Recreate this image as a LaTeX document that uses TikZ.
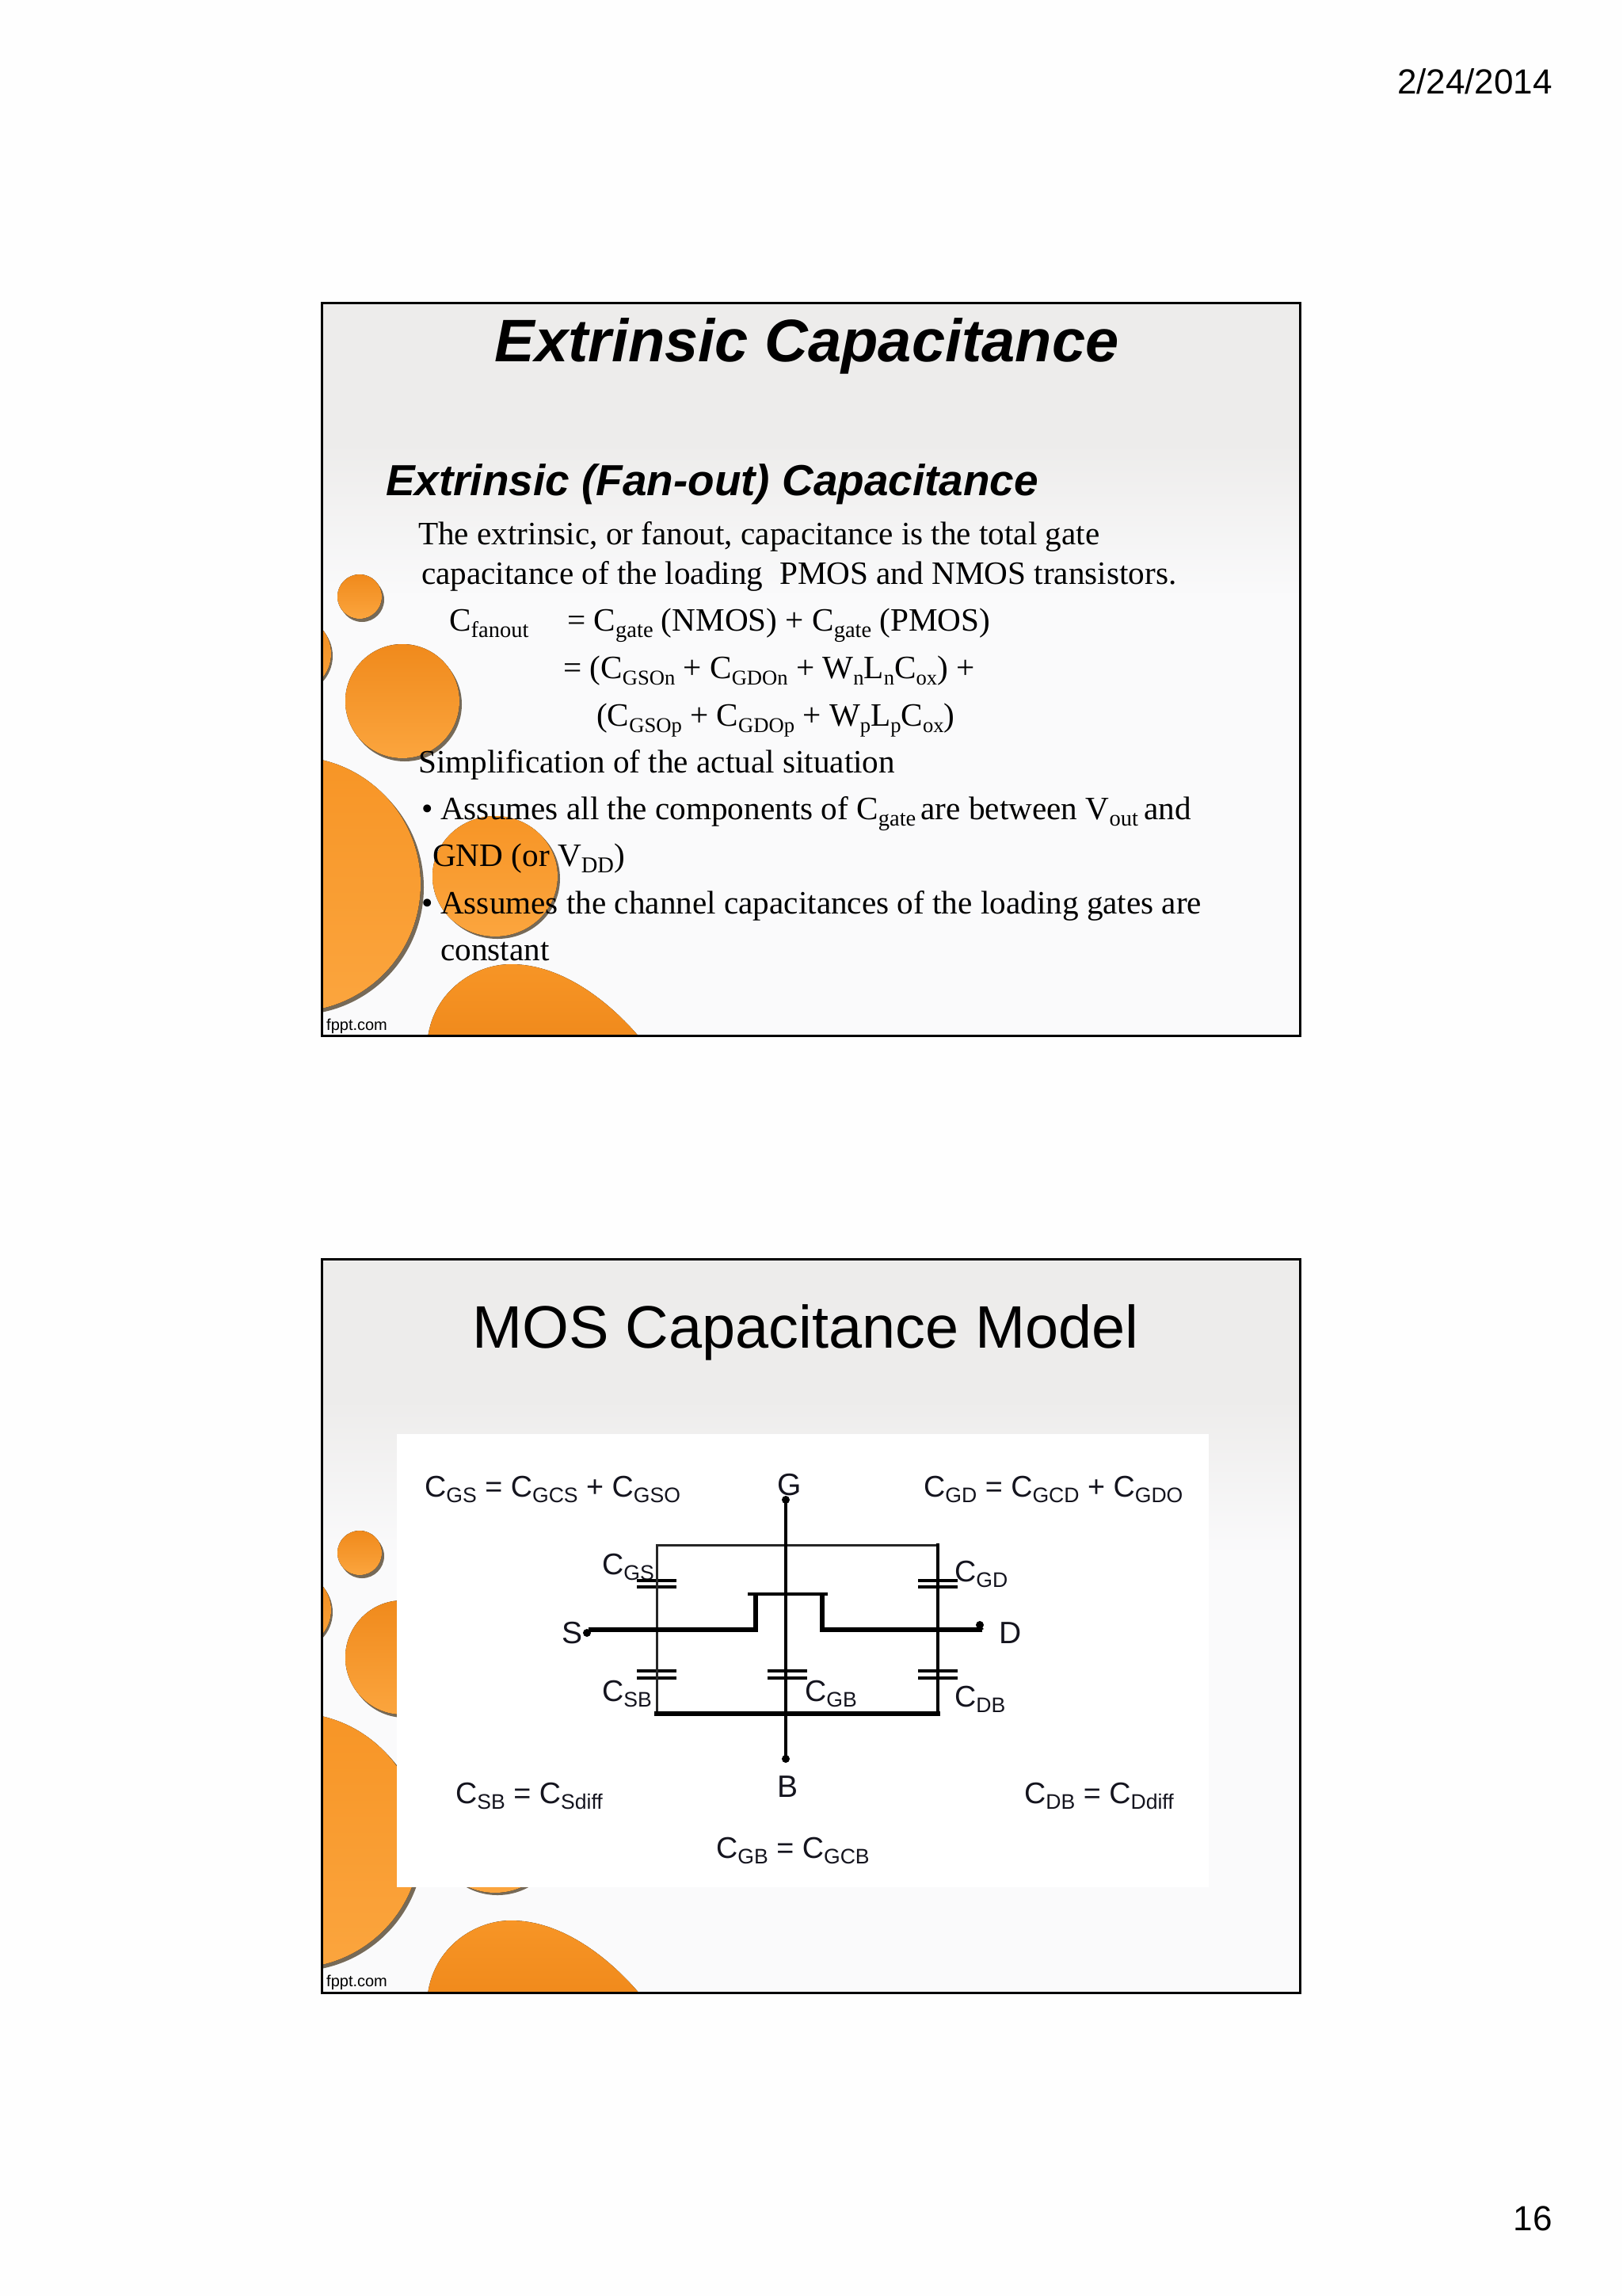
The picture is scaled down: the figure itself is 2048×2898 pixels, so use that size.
\documentclass[tikz,border=0pt]{standalone}
\usepackage{fontspec}
\setmainfont{Liberation Serif}
\newfontfamily\arialf{Liberation Sans}
\definecolor{pagebg}{HTML}{FEFEFE}
\definecolor{slidetop}{HTML}{EDECEB}
\definecolor{slidelow}{HTML}{FAFAFB}
\definecolor{blobA}{HTML}{F08A1C}
\definecolor{blobB}{HTML}{FBA53E}
\definecolor{blobC}{HTML}{F79526}
\definecolor{blobshade}{HTML}{4A3A22}
\definecolor{inkblue}{HTML}{14141E}
\newcommand\bsub[1]{\raisebox{-8pt}{\fontsize{28.5}{28}\selectfont #1}}
\newcommand\fsub[1]{\raisebox{-8pt}{\fontsize{26.6}{27}\selectfont #1}}
\newcommand\ssub[1]{\raisebox{-7pt}{\fontsize{26.6}{26}\selectfont #1}}
\tikzset{
  x=1pt,y=-1pt,
  bodytxt/.style={anchor=base west,inner sep=0pt,font=\fontsize{41.2}{50}\selectfont},
  eqtxt/.style={anchor=base west,inner sep=0pt,text=inkblue,font=\arialf\fontsize{37.7}{44}\selectfont},
  pintxt/.style={anchor=base,inner sep=0pt,text=inkblue,font=\arialf\fontsize{39}{44}\selectfont},
  pagetxt/.style={anchor=base east,inner sep=0pt,font=\arialf\fontsize{44}{50}\selectfont},
  blobtop/.style={top color=#1,bottom color=blobB,draw=none},
  blobshadow/.style={fill=blobshade,opacity=.75,draw=none},
  wire/.style={line width=4.5pt,black,line cap=rect},
  thinwire/.style={line width=3pt,black!85,line cap=rect},
  thickwire/.style={line width=5.5pt,black,line cap=rect},
  plate/.style={line width=4.2pt,black},
  termdot/.style={circle,fill=black,inner sep=0pt,minimum size=10pt},
  framebox/.style={draw=black,line width=3pt,fill=none},
}
% one slide background (coordinates of the first slide)
\newcommand\slideback[1]{
  \fill[slidelow] (406,382) rectangle (1641,1307);
  \fill[slidetop] (406,382) rectangle (1641,560);
  \shade[top color=slidetop,bottom color=slidelow] (406,559) rectangle (1641,755);
  \begin{scope}
    \clip (406,382) rectangle (1641,1307);
    \fill[blobshadow] (457,757) circle[radius=28];
    \fill[blobtop=blobA] (454,753) circle[radius=28];
    \fill[blobshadow] (372,828) circle[radius=48];
    \fill[blobtop=blobA] (370,825) circle[radius=48];
    \fill[blobshadow] (511,889) circle[radius=72];
    \fill[blobtop=blobA] (508,885) circle[radius=72];
    \fill[blobshadow] (374,1120) circle[radius=161];
    \fill[blobtop=blobC] (370,1116) circle[radius=161];
    \fill[blobshadow] (628,1109) ellipse[x radius=79,y radius=76];
    \fill[blobtop=blobC] (625,1106) ellipse[x radius=79,y radius=76];
    \fill[top color=blobC,bottom color=blobA,draw=none]
      (540,1310) .. controls (548,1250) and (600,1217) .. (645,1217)
      .. controls (710,1217) and (770,1265) .. (808,1310) -- cycle;
  \end{scope}
  \node[anchor=base west,inner sep=0pt,font=\arialf\fontsize{20}{24}\selectfont] (#1) at (412,1300) {fppt.com};
}
\begin{document}
\begin{tikzpicture}
\useasboundingbox (0,0) rectangle (2048,2898);
\fill[pagebg] (0,0) rectangle (2048,2898);
\node[pagetxt] (date) at (1960,119) {2/24/2014};
\node[pagetxt] (pagenum) at (1960,2815) {16};

% ---------- slide 1
\slideback{fpptA}
\node[anchor=base,inner sep=0pt,font=\arialf\bfseries\itshape\fontsize{75.8}{80}\selectfont] (titleA) at (1018.5,456) {Extrinsic Capacitance};
\node[anchor=base west,inner sep=0pt,font=\arialf\bfseries\itshape\fontsize{54.9}{60}\selectfont] (subA) at (487,625) {Extrinsic (Fan-out) Capacitance};
\node[bodytxt] (l1) at (528,687) {The extrinsic, or fanout, capacitance is the total gate};
\node[bodytxt] (l2) at (532,737) {capacitance of the loading\ \ PMOS and NMOS transistors.};
\node[bodytxt] (l3a) at (567,796) {C\bsub{fanout}};
\node[bodytxt] (l3b) at (716,796) {= C\bsub{gate} (NMOS) + C\bsub{gate} (PMOS)};
\node[bodytxt] (l4) at (711,856) {= (C\fsub{GSOn} + C\fsub{GDOn} + W\fsub{n}L\fsub{n}C\fsub{ox}) +};
\node[bodytxt] (l5) at (753,916) {(C\fsub{GSOp} + C\fsub{GDOp} + W\fsub{p}L\fsub{p}C\fsub{ox})};
\node[bodytxt] (l6) at (528,975) {Simplification of the actual situation};
\node[bodytxt] (b1) at (532,1034) {•};
\node[bodytxt] (l7) at (556,1034) {Assumes all the components of C\bsub{gate}\hspace{-4pt} are between V\bsub{out}\hspace{-3pt} and};
\node[bodytxt] (l8) at (546,1093) {GND (or V\bsub{DD})};
\node[bodytxt] (b2) at (532,1153) {•};
\node[bodytxt] (l9) at (556,1153) {Assumes the channel capacitances of the loading gates are};
\node[bodytxt] (l10) at (556,1212) {constant};
\draw[framebox] (406,382) rectangle (1641,1307);

% ---------- slide 2
\begin{scope}[shift={(0,1207)}]
  \slideback{fpptB}
\end{scope}
\node[anchor=base,inner sep=0pt,font=\arialf\fontsize{75.7}{80}\selectfont] (titleB) at (1017,1701) {MOS Capacitance Model};
\fill[white] (501,1810) rectangle (1526,2382);

\node[eqtxt] (eqGS) at (536,1889) {C\ssub{GS} = C\ssub{GCS} + C\ssub{GSO}};
\node[eqtxt] (eqGD) at (1166,1889) {C\ssub{GD} = C\ssub{GCD} + C\ssub{GDO}};
\node[eqtxt] (eqSB) at (575,2276) {C\ssub{SB} = C\ssub{Sdiff}};
\node[eqtxt] (eqDB) at (1293,2276) {C\ssub{DB} = C\ssub{Ddiff}};
\node[eqtxt] (eqGB) at (904,2345) {C\ssub{GB} = C\ssub{GCB}};

\node[pintxt] (pinG) at (997,1887) {G};
\node[pintxt] (pinB) at (994,2268) {B};
\node[pintxt] (pinS) at (722,2074) {S};
\node[pintxt] (pinD) at (1276,2074) {D};

\node[eqtxt] (lGS) at (760,1987) {C\ssub{GS}};
\node[eqtxt] (lGD) at (1205,1996) {C\ssub{GD}};
\node[eqtxt] (lSB) at (760,2147) {C\ssub{SB}};
\node[eqtxt] (lGB) at (1016,2147) {C\ssub{GB}};
\node[eqtxt] (lDB) at (1205,2154) {C\ssub{DB}};

% terminals and junctions
\node[termdot] (dG) at (992,1893) {};
\node[termdot] (dB) at (992,2220) {};
\node[termdot] (dS) at (741,2061) {};
\node[termdot] (dD) at (1237,2051) {};
\coordinate (tl) at (829,1950);
\coordinate (tr) at (1184,1950);
\coordinate (bl) at (829,2163);
\coordinate (br) at (1184,2163);
\coordinate (sw) at (743,2057);
\coordinate (de) at (1240,2057);
\coordinate (sa) at (954,2057);
\coordinate (sb) at (954,2012);
\coordinate (da) at (1038,2057);
\coordinate (db) at (1038,2012);
\coordinate (gl) at (946,2012);
\coordinate (gr) at (1043,2012);

% capacitor plate centres
\foreach \n/\px/\py in {a/829/1995,b/829/2003,c/1184/1995,d/1184/2003,e/829/2109,f/829/2118,g/994/2109,h/994/2118,i/1184/2109,j/1184/2118}{
  \coordinate (p\n) at (\px,\py);
  \draw[plate] ([xshift=-25pt]p\n) -- ([xshift=25pt]p\n);
}

\draw[thinwire] (bl) -- (tl) -- (tr);
\draw[wire] (tr) -- (br);
\draw[wire] (dG) -- (dB);
\draw[thickwire] (bl) -- (br);
\draw[line width=5.5pt,black] (sw) -- (sa) -- (sb);
\draw[line width=5.5pt,black] (de) -- (da) -- (db);
\draw[line width=3.5pt,black,line cap=rect] (gl) -- (gr);
\draw[line width=4pt,black,line cap=butt] (dD) -- (de);
\draw[framebox] (406,1589) rectangle (1641,2515);
\end{tikzpicture}
\end{document}
